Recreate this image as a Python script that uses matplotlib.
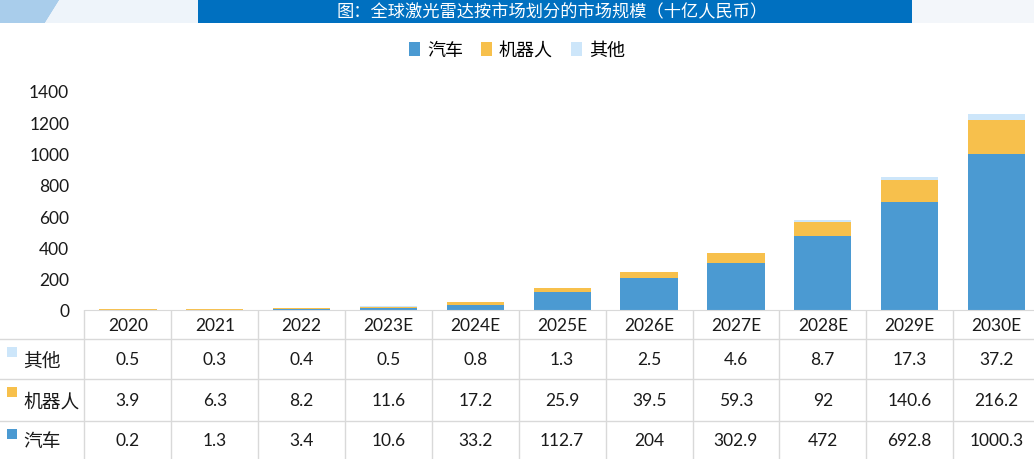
import matplotlib
matplotlib.use("Agg")
import matplotlib.pyplot as plt
from matplotlib.patches import Rectangle, Polygon
import numpy as np

plt.rcParams['font.family'] = ['Lato', 'Noto Sans CJK SC', 'DejaVu Sans']

title = "图：全球激光雷达按市场划分的市场规模（十亿人民币）"
years = ["2020", "2021", "2022", "2023E", "2024E", "2025E", "2026E", "2027E", "2028E", "2029E", "2030E"]
auto = [0.2, 1.3, 3.4, 10.6, 33.2, 112.7, 204, 302.9, 472, 692.8, 1000.3]
robot = [3.9, 6.3, 8.2, 11.6, 17.2, 25.9, 39.5, 59.3, 92, 140.6, 216.2]
other = [0.5, 0.3, 0.4, 0.5, 0.8, 1.3, 2.5, 4.6, 8.7, 17.3, 37.2]
series_names = ["汽车", "机器人", "其他"]
colors = ["#4B9AD2", "#F7C04C", "#CDE6FA"]
yticks = [0, 200, 400, 600, 800, 1000, 1200, 1400]

W, H = 1034, 460
fig = plt.figure(figsize=(W / 100, H / 100), dpi=100)

def fx(px):
    return px / W

def fy(py):
    return 1 - py / H

# background decorations
fig.patches.append(Polygon([[0, fy(0)], [fx(60), fy(0)], [fx(45), fy(24)], [0, fy(24)]],
                           closed=True, transform=fig.transFigure, facecolor="#A9CDEB", edgecolor="none", zorder=0))
fig.patches.append(Polygon([[fx(45), fy(24)], [fx(60), fy(0)], [fx(200), fy(0)], [fx(200), fy(24)]],
                           closed=True, transform=fig.transFigure, facecolor="#EEF4FA", edgecolor="none", zorder=0))
fig.patches.append(Rectangle((fx(912), fy(24)), fx(W - 912), 24 / H, transform=fig.transFigure,
                             facecolor="#F3F6FA", edgecolor="none", zorder=0))
# title banner
fig.patches.append(Rectangle((fx(198), fy(24)), fx(912 - 198), 24 / H, transform=fig.transFigure,
                             facecolor="#0070C0", edgecolor="none", zorder=1))
fig.text(fx(552), fy(12), title, color="white", fontsize=12.4, ha="center", va="center",
         family=['Noto Sans CJK SC'])

# main axes
col_w = 86.86
left_px = 84.5
n = len(years)
right_px = left_px + col_w * n
ax = fig.add_axes([fx(left_px), fy(311), fx(right_px - left_px), (311 - 92) / H])
x = np.arange(n)
bw = 0.66
b1 = ax.bar(x, auto, bw, color=colors[0], label=series_names[0], zorder=2)
b2 = ax.bar(x, robot, bw, bottom=auto, color=colors[1], label=series_names[1], zorder=2)
b3 = ax.bar(x, other, bw, bottom=np.array(auto) + np.array(robot), color=colors[2],
            label=series_names[2], zorder=2)
ax.set_xlim(-0.5, n - 0.5)
ax.set_ylim(0, 1400)
ax.set_yticks(yticks)
ax.set_yticklabels([str(v) for v in yticks], fontsize=12.5, color="#1a1a1a")
ax.set_xticks([])
for s in ["top", "right", "left"]:
    ax.spines[s].set_visible(False)
ax.spines["bottom"].set_color("#D9D9D9")
ax.tick_params(axis="y", length=0, pad=11)
ax.patch.set_alpha(0)

# legend
leg = fig.legend(handles=[b1, b2, b3], labels=series_names, loc="center",
                 bbox_to_anchor=(fx(517), fy(51)), ncol=3, frameon=False,
                 handlelength=0.6, handleheight=0.8, handletextpad=0.4, columnspacing=1.0,
                 prop={'family': 'Noto Sans CJK SC', 'size': 13})

# data table
x_left = -0.5 - left_px / col_w
tax = fig.add_axes([0, 0, fx(right_px), 149 / H])
tax.set_xlim(x_left, n - 0.5)
tax.set_ylim(149, 0)
tax.axis("off")
tax.patch.set_alpha(0)
row_edges = [0, 29, 69, 111, 149]
grid_c = "#D9D9D9"
for yy in row_edges[1:4]:
    tax.plot([x_left, n - 0.5], [yy, yy], color=grid_c, lw=1)
for i in range(n + 1):
    tax.plot([i - 0.5, i - 0.5], [0, 149], color=grid_c, lw=1)

for i, yr in enumerate(years):
    tax.text(i, 15, yr, ha="center", va="center", fontsize=12.5, color="#1a1a1a")

rows = [("其他", other, colors[2]), ("机器人", robot, colors[1]), ("汽车", auto, colors[0])]
for r, (name, vals, c) in enumerate(rows):
    top = row_edges[r + 1]
    bot = row_edges[r + 2]
    cy = (top + bot) / 2
    sx = x_left + 7 / col_w
    tax.add_patch(Rectangle((sx, top + 8), 10 / col_w, 10, facecolor=c, edgecolor="none"))
    tax.text(x_left + 23 / col_w, cy + 1, name, ha="left", va="center", fontsize=13.5,
             color="#1a1a1a", family=['Noto Sans CJK SC'])
    for i, v in enumerate(vals):
        tax.text(i, cy, f"{v:g}", ha="center", va="center", fontsize=12.5, color="#1a1a1a")

fig.savefig("out.png", dpi=100, facecolor="white")
